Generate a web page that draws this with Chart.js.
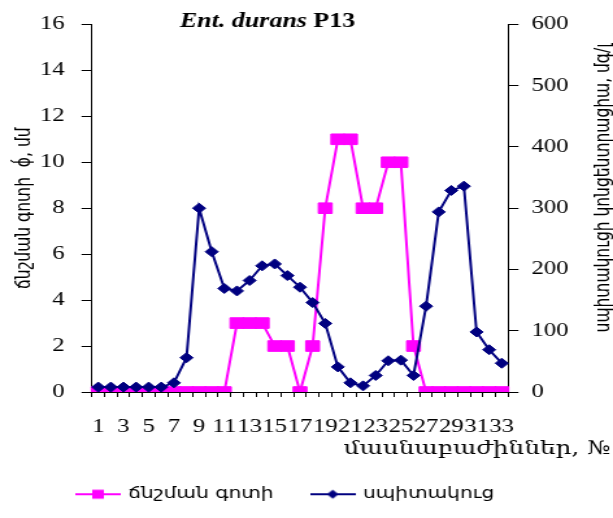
<!DOCTYPE html>
<html>
<head>
<meta charset="utf-8">
<script src="https://cdn.jsdelivr.net/npm/chart.js@4.4.0/dist/chart.umd.min.js"></script>
<style>
  html, body { margin: 0; padding: 0; background: #fff; }
</style>
</head>
<body>
<!-- the original picture is stretched sideways, so the canvas is drawn narrow and widened by css -->
<canvas id="chart" width="472" height="518" style="display:block;width:613px;height:518px"></canvas>
<script>
// ── Data ───────────────────────────────────────────────────────
const fractions = ["1","2","3","4","5","6","7","8","9","10","11","12","13","14","15","16","17",
                   "18","19","20","21","22","23","24","25","26","27","28","29","30","31","32","33"];
const xTickLabels = ["1","3","5","7","9","11","13","15","17","19","21","23","25","27","29","31","33"];

// inhibition zone, mm (left axis)
const zoneMm = [0,0,0,0,0,0,0,0,0,0,0, 3,3,3, 2,2, 0, 2, 8, 11,11, 8,8, 10,10, 2, 0,0,0,0,0,0,0];
// protein (right axis)
const protein = [8,8,8,8,8,8,15,56,300,229,169,165,182,206,209,190,171,146,112,41,
                 15,10,27,51,52,27,140,294,329,336,98,69,47];

const zoneTicks    = [0,2,4,6,8,10,12,14,16];
const proteinTicks = [0,100,200,300,400,500,600];

const seriesNames = ["ճնշման գոտի", "սպիտակուց"];
const titleItalic = "Ent. durans";
const titleBold   = "P13";
const leftTitle   = "ճնշման գոտի  ϕ́, մմ";
const rightTitle  = "սպիտակուցի կոնցենտրացիա, մգ/լ";
const xTitle      = "մասնաբաժիններ, №";

// ── Style ──────────────────────────────────────────────────────
const PINK = "#ff00ff";
const NAVY = "#000080";
const SERIF = "'Liberation Serif', 'Times New Roman', serif";
const SANS  = "'DejaVu Sans', sans-serif";

Chart.defaults.color = "#000";
Chart.defaults.font.family = SERIF;

// legend marker: short line with the point in the middle
function legendMark(color, shape) {
  const c = document.createElement("canvas");
  c.width = 35; c.height = 12;
  const g = c.getContext("2d");
  g.strokeStyle = color; g.lineWidth = 2;
  g.beginPath(); g.moveTo(0, 6); g.lineTo(35, 6); g.stroke();
  g.fillStyle = color;
  if (shape === "square") {
    g.fillRect(13, 1.5, 9, 9);
  } else {
    g.beginPath();
    g.moveTo(17.5, 1.5); g.lineTo(22, 6); g.lineTo(17.5, 10.5); g.lineTo(13, 6);
    g.closePath(); g.fill();
  }
  return c;
}
const legendMarks = [legendMark(PINK, "square"), legendMark(NAVY, "diamond")];

// ── Extra text: mixed-style title, right & x axis titles ──────
const extraText = {
  id: "extraText",
  afterLayout(chart) {
    // move the legend row so it starts where the original's does
    const lg = chart.legend;
    if (!lg || !lg.lineWidths) return;
    const pad = lg.options.labels.padding;
    const start = (lg.left + pad + lg.right - lg.lineWidths[0]) / 2;
    const dx = 60 - start;
    lg.left += dx;
    lg.right += dx;
  },
  afterDraw(chart) {
    const ctx = chart.ctx;
    ctx.save();
    ctx.fillStyle = "#000";

    // title
    ctx.textBaseline = "alphabetic";
    ctx.textAlign = "left";
    const fIt = "italic bold 20px " + SERIF;
    const fBd = "bold 20px " + SERIF;
    ctx.font = fIt;
    const w1 = ctx.measureText(titleItalic + " ").width;
    ctx.font = fBd;
    const w2 = ctx.measureText(titleBold).width;
    let x0 = 206 - (w1 + w2) / 2;
    ctx.font = fIt;
    ctx.fillText(titleItalic + " ", x0, 27);
    ctx.font = fBd;
    ctx.fillText(titleBold, x0 + w1, 27);

    // right axis title, read bottom to top
    ctx.save();
    ctx.translate(465, 188);
    ctx.rotate(-Math.PI / 2);
    ctx.font = "15.5px " + SANS;
    ctx.textAlign = "center";
    ctx.textBaseline = "middle";
    ctx.fillText(rightTitle, 0, 0);
    ctx.restore();

    // x axis title
    ctx.font = "19px 'DejaVu Serif', serif";
    ctx.textAlign = "right";
    ctx.textBaseline = "middle";
    ctx.fillText(xTitle, 470, 449);

    ctx.restore();
  }
};

// ── Chart ──────────────────────────────────────────────────────
new Chart(document.getElementById("chart"), {
  type: "line",
  data: {
    labels: fractions,
    datasets: [
      {
        label: seriesNames[0],
        data: zoneMm,
        yAxisID: "yZone",
        borderColor: PINK,
        backgroundColor: PINK,
        borderWidth: 2,
        pointStyle: "rect",
        pointRadius: 7.5,
        pointBorderWidth: 1,
        tension: 0,
        order: 2,
      },
      {
        label: seriesNames[1],
        data: protein,
        yAxisID: "yProt",
        borderColor: NAVY,
        backgroundColor: NAVY,
        borderWidth: 2,
        pointStyle: "rectRot",
        pointRadius: 5,
        pointBorderWidth: 1,
        tension: 0,
        order: 1,
      }
    ]
  },
  options: {
    responsive: false,
    animation: false,
    events: [],
    layout: { padding: { left: 0, right: 0, top: 20, bottom: 6 } },
    plugins: {
      title: { display: false },
      tooltip: { enabled: false },
      legend: {
        position: "bottom",
        labels: {
          usePointStyle: true,
          pointStyleWidth: 31,
          padding: 30,
          color: "#000",
          font: { family: SANS, size: 15.5 },
          sort: (a, b) => a.datasetIndex - b.datasetIndex,
          generateLabels(chart) {
            const items = Chart.defaults.plugins.legend.labels.generateLabels(chart);
            items.forEach(it => { it.pointStyle = legendMarks[it.datasetIndex]; });
            return items;
          }
        }
      }
    },
    scales: {
      x: {
        offset: true,
        grid: { offset: true, drawOnChartArea: false, tickLength: 5, color: "#000" },
        border: { color: "#000", width: 1 },
        ticks: {
          autoSkip: false,
          maxRotation: 0,
          minRotation: 0,
          padding: 19,
          font: { family: SERIF, size: 19 },
          callback: (v, i) => xTickLabels.includes(fractions[i]) ? fractions[i] : ""
        },
        afterFit: s => { s.height = 64.5; }
      },
      yZone: {
        position: "left",
        min: zoneTicks[0],
        max: zoneTicks[zoneTicks.length - 1],
        grid: { drawOnChartArea: false, tickLength: 8, color: "#000" },
        border: { color: "#000", width: 1 },
        ticks: {
          stepSize: zoneTicks[1] - zoneTicks[0],
          padding: 13,
          font: { family: SERIF, size: 19 }
        },
        title: {
          display: true,
          text: leftTitle,
          font: { family: SANS, size: 15.5 },
          padding: { top: 10, bottom: 0 }
        },
        afterFit: s => { s.width = 70.8; }
      },
      yProt: {
        position: "right",
        min: proteinTicks[0],
        max: proteinTicks[proteinTicks.length - 1],
        grid: { drawOnChartArea: false, tickLength: 8, color: "#000" },
        border: { color: "#000", width: 1 },
        ticks: {
          stepSize: proteinTicks[1] - proteinTicks[0],
          padding: 10,
          font: { family: SERIF, size: 19 }
        },
        afterFit: s => { s.width = 472 - 391.2; }
      }
    }
  },
  plugins: [extraText]
});
</script>
</body>
</html>
